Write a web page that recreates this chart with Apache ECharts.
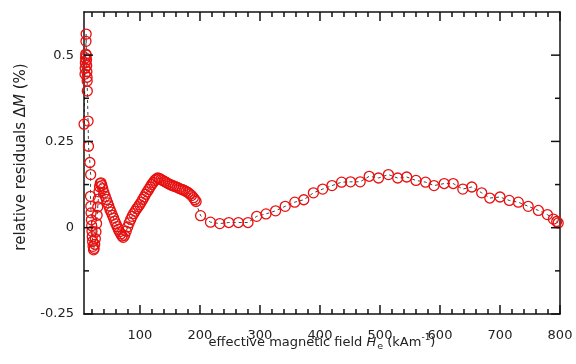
<!DOCTYPE html>
<html>
<head>
<meta charset="utf-8">
<script src="https://cdn.jsdelivr.net/npm/echarts@6/dist/echarts.min.js"></script>
<style>
  html, body { margin: 0; padding: 0; background: #fff; }
  #chart { width: 576px; height: 364px; }
</style>
</head>
<body>
<div id="chart"></div>
<script>
// Effective field H_e (kA/m) of each measurement
const fieldH = [
  6.8, 8.4, 8.7, 9.0, 9.3, 9.6, 10.0, 10.3, 10.6, 10.9, 11.2, 11.5, 11.8, 12.0, 12.2, 13.5,
  14.2, 16.5, 17.8, 17.5, 18.0, 18.5, 19.0, 19.5, 20.0, 20.5, 21.0, 21.8, 22.6,
  23.6, 24.6, 25.6, 26.6, 27.6, 28.6, 29.6, 30.6, 31.6, 32.6, 33.8, 35.0,
  36.5, 38, 40, 42, 44, 46, 48, 50, 52, 54, 56, 58, 60, 62, 64, 66, 68, 70, 72,
  74.5, 77, 79.5, 82, 84.5, 87, 89.5, 92, 94.5, 97, 99.5, 102, 104.5, 107, 109.5,
  112, 114.5, 117, 119.5, 122, 124.5, 127, 129.5,
  132, 135, 138, 141, 144, 147, 150, 153, 156, 159, 162, 165, 168, 171, 174, 177,
  180, 183, 186, 189, 191.5, 193.5,
  201, 217.5, 233, 248, 264, 280, 294.5, 310, 326, 342, 358, 373, 389, 404.5,
  420, 436, 451, 467, 482, 497.5, 514, 529.5, 544.5, 560, 576, 590, 607, 622,
  638, 653, 669.5, 683, 700, 715.5, 730.5, 747, 764, 779, 789, 794.5, 797
];

// Relative residuals ΔM (%) at each field value
const residual = [
  0.300, 0.445, 0.462, 0.478, 0.492, 0.503, 0.540, 0.561, 0.500, 0.486, 0.470, 0.452, 0.436, 0.425, 0.396, 0.309,
  0.236, 0.189, 0.154, 0.091, 0.062, 0.043, 0.023, 0.006, -0.010, -0.026, -0.040, -0.054, -0.064,
  -0.060, -0.048, -0.032, -0.012, 0.012, 0.036, 0.060, 0.083, 0.104, 0.119, 0.128, 0.130,
  0.122, 0.113, 0.101, 0.091, 0.082, 0.072, 0.063, 0.053, 0.045, 0.036, 0.028, 0.019, 0.011, 0.003, -0.005, -0.012, -0.018, -0.024, -0.028,
  -0.022, -0.010, 0.002, 0.014, 0.024, 0.033, 0.041, 0.048, 0.055, 0.061, 0.067, 0.074, 0.082, 0.089, 0.097,
  0.104, 0.111, 0.118, 0.125, 0.131, 0.137, 0.141, 0.144,
  0.143, 0.140, 0.137, 0.134, 0.131, 0.128, 0.125, 0.123, 0.121, 0.119, 0.117, 0.114, 0.112, 0.110, 0.108, 0.105,
  0.102, 0.098, 0.093, 0.087, 0.081, 0.076,
  0.035, 0.016, 0.012, 0.015, 0.015, 0.015, 0.033, 0.040, 0.049, 0.062, 0.074, 0.081, 0.101, 0.112,
  0.122, 0.132, 0.133, 0.133, 0.149, 0.144, 0.154, 0.144, 0.147, 0.137, 0.132, 0.122, 0.128, 0.128,
  0.112, 0.118, 0.101, 0.086, 0.089, 0.079, 0.074, 0.062, 0.050, 0.038, 0.025, 0.018, 0.014
];

// Tick positions
const xMajorTicks = [100, 200, 300, 400, 500, 600, 700, 800];
const xMinorTicks = [20, 40, 60, 80, 120, 140, 160, 180, 220, 240, 260, 280, 320, 340, 360, 380,
  420, 440, 460, 480, 520, 540, 560, 580, 620, 640, 660, 680, 720, 740, 760, 780];
const yMajorTicks = [-0.25, 0, 0.25, 0.5];
const yMinorTicks = [-0.125, 0.125, 0.375];

const X_MIN = 6.7, X_MAX = 800;
const Y_MIN = -0.25, Y_MAX = 0.625;

const FONT = 'DejaVu Sans';
const INK = '#111';
const TEXT = '#222';
const RED = '#e81010';

// Both grids share the plot rectangle
const plotRect = { left: 84, right: 16, top: 12, bottom: 50, outerBoundsMode: 'none', containLabel: false };

function frameAxis(dim, gridIndex, position) {
  const isX = dim === 'x';
  return {
    type: 'value', gridIndex: gridIndex, position: position,
    min: isX ? X_MIN : Y_MIN, max: isX ? X_MAX : Y_MAX,
    splitLine: { show: false },
    axisLine: { show: true, onZero: false, lineStyle: { color: INK, width: 1.5 } },
    axisTick: { show: false },
    axisLabel: { show: false }
  };
}

// Main axes carrying the labels and titles
const xMain = frameAxis('x', 0, 'bottom');
xMain.axisLabel = {
  show: true, customValues: xMajorTicks, margin: 15,
  fontFamily: FONT, fontSize: 13, color: TEXT
};
xMain.name = '{t|effective magnetic field }{i|H}{sub|e}{t| (kAm}{sup|-1}{t|)}';
xMain.nameLocation = 'middle';
xMain.nameGap = 19;
xMain.nameMoveOverlap = false;
xMain.nameTextStyle = {
  fontFamily: FONT, fontSize: 13, color: TEXT,
  rich: {
    t: { fontFamily: FONT, fontSize: 13, color: TEXT },
    i: { fontFamily: FONT, fontSize: 13, fontStyle: 'italic', color: TEXT },
    sub: { fontFamily: FONT, fontSize: 9.5, color: TEXT, padding: [9, 0, 0, 1] },
    sup: { fontFamily: FONT, fontSize: 9, color: TEXT, padding: [0, 0, 10, 0] }
  }
};

const yMain = frameAxis('y', 0, 'left');
yMain.axisLabel = {
  show: true, customValues: yMajorTicks, margin: 10,
  fontFamily: FONT, fontSize: 13, color: TEXT
};
yMain.name = '{t|relative residuals Δ}{i|M}{t| (%)}';
yMain.nameLocation = 'middle';
yMain.nameGap = 55;
yMain.nameMoveOverlap = false;
yMain.nameTextStyle = {
  fontFamily: FONT, fontSize: 15, color: TEXT, padding: [0, 0, 0, 12],
  rich: {
    t: { fontFamily: FONT, fontSize: 15, color: TEXT },
    i: { fontFamily: FONT, fontSize: 15, fontStyle: 'italic', color: TEXT }
  }
};

// Inward tick marks on all four sides, placed through the axis scales
function tickLine(x1, y1, x2, y2) {
  return { type: 'line', shape: { x1: x1, y1: y1, x2: x2, y2: y2 },
    style: { stroke: INK, lineWidth: 1.5 }, silent: true };
}
function xTickSeries(values, len) {
  return {
    type: 'custom', xAxisIndex: 0, yAxisIndex: 0, clip: false, silent: true, z: 5,
    data: values.map(v => [v, Y_MIN]),
    renderItem: function (params, api) {
      const bottom = api.coord([api.value(0), Y_MIN]);
      const top = api.coord([api.value(0), Y_MAX]);
      return { type: 'group', children: [
        tickLine(bottom[0], bottom[1], bottom[0], bottom[1] - len),
        tickLine(top[0], top[1], top[0], top[1] + len)
      ] };
    }
  };
}
function yTickSeries(values, len) {
  return {
    type: 'custom', xAxisIndex: 0, yAxisIndex: 0, clip: false, silent: true, z: 5,
    data: values.map(v => [X_MIN, v]),
    renderItem: function (params, api) {
      const left = api.coord([X_MIN, api.value(1)]);
      const right = api.coord([X_MAX, api.value(1)]);
      return { type: 'group', children: [
        tickLine(left[0], left[1], left[0] + len, left[1]),
        tickLine(right[0], right[1], right[0] - len, right[1])
      ] };
    }
  };
}

const chart = echarts.init(document.getElementById('chart'), null, { renderer: 'canvas' });

chart.setOption({
  animation: false,
  grid: [Object.assign({}, plotRect), Object.assign({}, plotRect)],
  xAxis: [xMain, frameAxis('x', 1, 'top')],
  yAxis: [yMain, frameAxis('y', 1, 'right')],
  series: [
    xTickSeries(xMajorTicks, 9),
    xTickSeries(xMinorTicks, 5),
    yTickSeries(yMajorTicks, 9),
    yTickSeries(yMinorTicks, 5),
    {
      type: 'line',
      xAxisIndex: 0,
      yAxisIndex: 0,
      data: fieldH.map((h, i) => [h, residual[i]]),
      symbol: 'circle',
      symbolSize: 10,
      showSymbol: true,
      itemStyle: { color: 'rgba(0,0,0,0)', borderColor: RED, borderWidth: 1.3 },
      lineStyle: { color: '#111', width: 0.8, type: [3, 3] },
      emphasis: { disabled: true }
    }
  ]
});
</script>
</body>
</html>
